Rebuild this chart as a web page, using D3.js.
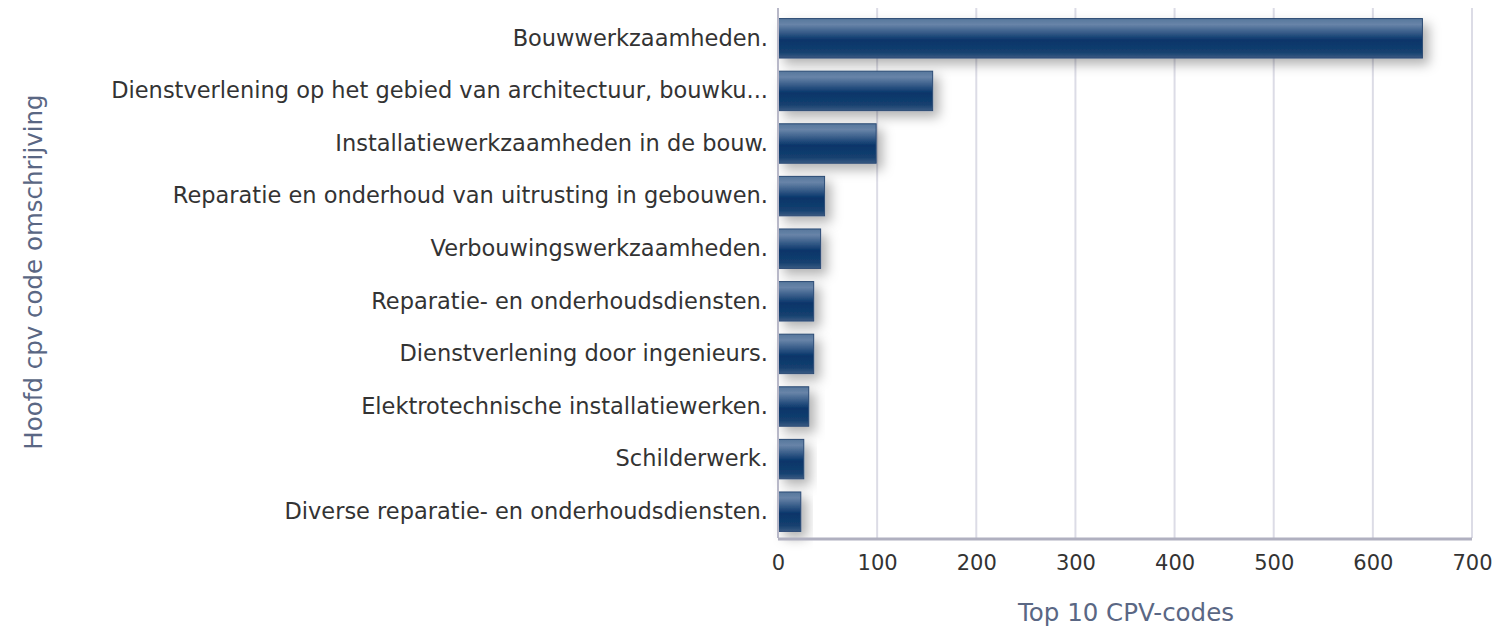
<!DOCTYPE html>
<html>
<head>
<meta charset="utf-8">
<script src="https://cdn.jsdelivr.net/npm/d3@7"></script>
<style>
  body { margin: 0; background: #fff; }
  svg { display: block; }
</style>
</head>
<body>
<svg id="chart"></svg>
<script>
const width = 1496;
const height = 630;

const categories = [
    "Bouwwerkzaamheden.",
    "Dienstverlening op het gebied van architectuur, bouwku...",
    "Installatiewerkzaamheden in de bouw.",
    "Reparatie en onderhoud van uitrusting in gebouwen.",
    "Verbouwingswerkzaamheden.",
    "Reparatie- en onderhoudsdiensten.",
    "Dienstverlening door ingenieurs.",
    "Elektrotechnische installatiewerken.",
    "Schilderwerk.",
    "Diverse reparatie- en onderhoudsdiensten."
];
const values = [650, 156, 99, 47, 43, 36, 36, 31, 26, 23];
const xTicks = [0, 100, 200, 300, 400, 500, 600, 700];
const xTitle = "Top 10 CPV-codes";
const yTitle = "Hoofd cpv code omschrijving";

const margin = { top: 12, right: 24, bottom: 92, left: 778 };
const fontFamily = "'DejaVu Sans', Verdana, sans-serif";

const svg = d3.select("#chart")
    .attr("width", width)
    .attr("height", height);

const x = d3.scaleLinear()
    .domain([0, 700])
    .range([margin.left, width - margin.right]);

const y = d3.scaleBand()
    .domain(categories)
    .range([margin.top, height - margin.bottom])
    .paddingInner(0.25)
    .paddingOuter(0.125);

const defs = svg.append("defs");

const grad = defs.append("linearGradient")
    .attr("id", "barGrad")
    .attr("x1", 0).attr("y1", 0).attr("x2", 0).attr("y2", 1);
grad.append("stop").attr("offset", "0%").attr("stop-color", "#56779c");
grad.append("stop").attr("offset", "15%").attr("stop-color", "#6884a8");
grad.append("stop").attr("offset", "55%").attr("stop-color", "#07356a");
grad.append("stop").attr("offset", "85%").attr("stop-color", "#15406f");
grad.append("stop").attr("offset", "100%").attr("stop-color", "#3a5a82");

const shadow = defs.append("filter")
    .attr("id", "shadow")
    .attr("x", "-20%").attr("y", "-50%")
    .attr("width", "170%").attr("height", "220%");
shadow.append("feDropShadow")
    .attr("dx", 6).attr("dy", 6)
    .attr("stdDeviation", 6)
    .attr("flood-color", "#000")
    .attr("flood-opacity", 0.3);

// grid lines
svg.append("g")
    .selectAll("line")
    .data(xTicks)
    .join("line")
    .attr("x1", d => x(d)).attr("x2", d => x(d))
    .attr("y1", margin.top - 4)
    .attr("y2", height - margin.bottom)
    .attr("stroke", "#dcdce6")
    .attr("stroke-width", 2);

// bars
svg.append("g")
    .selectAll("rect")
    .data(values)
    .join("rect")
    .attr("x", x(0))
    .attr("y", (d, i) => y(categories[i]))
    .attr("width", d => x(d) - x(0))
    .attr("height", y.bandwidth())
    .attr("fill", "url(#barGrad)")
    .attr("stroke", "#2b4a74")
    .attr("stroke-width", 1)
    .attr("filter", "url(#shadow)");

// left axis line
svg.append("line")
    .attr("x1", x(0)).attr("x2", x(0))
    .attr("y1", margin.top - 4)
    .attr("y2", height - margin.bottom)
    .attr("stroke", "#b8b8c8")
    .attr("stroke-width", 2);

// bottom axis line
svg.append("line")
    .attr("x1", x(0)).attr("x2", x(700))
    .attr("y1", height - margin.bottom + 1)
    .attr("y2", height - margin.bottom + 1)
    .attr("stroke", "#b0b0c0")
    .attr("stroke-width", 3);

// category labels
const yAxis = d3.axisLeft(y).tickSize(0).tickPadding(10);
const gy = svg.append("g")
    .attr("transform", `translate(${x(0)},0)`)
    .call(yAxis);
gy.select(".domain").remove();
gy.selectAll("text")
    .attr("font-family", fontFamily)
    .attr("font-size", 22.5)
    .attr("fill", "#333");

// x tick labels
const xAxis = d3.axisBottom(x).tickValues(xTicks).tickSize(0).tickPadding(17);
const gx = svg.append("g")
    .attr("transform", `translate(0,${height - margin.bottom})`)
    .call(xAxis);
gx.select(".domain").remove();
gx.selectAll("text")
    .attr("font-family", fontFamily)
    .attr("font-size", 21)
    .attr("fill", "#333");

// axis titles
svg.append("text")
    .attr("x", 1126)
    .attr("y", 621)
    .attr("text-anchor", "middle")
    .attr("font-family", fontFamily)
    .attr("font-size", 24.5)
    .attr("fill", "#5a6784")
    .text(xTitle);

svg.append("text")
    .attr("transform", `translate(42,${272}) rotate(-90)`)
    .attr("text-anchor", "middle")
    .attr("font-family", fontFamily)
    .attr("font-size", 24.5)
    .attr("fill", "#5a6784")
    .text(yTitle);
</script>
</body>
</html>
